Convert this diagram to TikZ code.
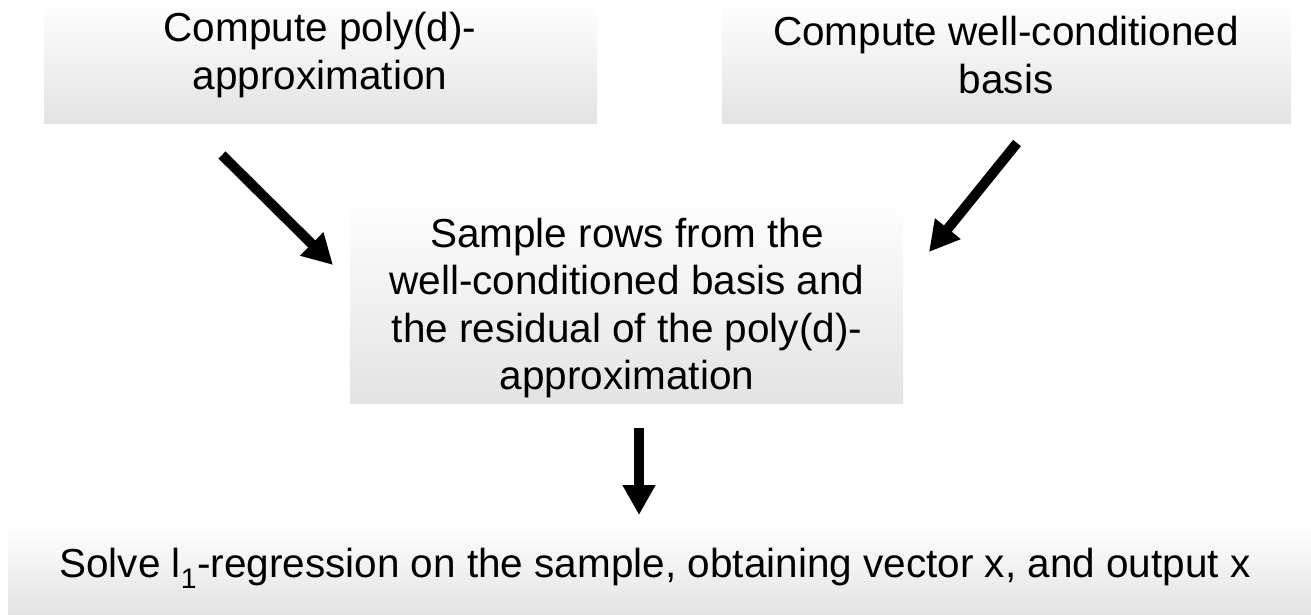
\documentclass[tikz,border=0pt]{standalone}
\usepackage{fontspec}
\setmainfont{Liberation Sans}
\usetikzlibrary{arrows.meta}
\tikzset{
  boxshade/.style={rectangle, inner sep=0pt, anchor=north west, shading=axis,
    top color=white, middle color=white, bottom color=black!11, draw=none},
  txt/.style={align=center, inner sep=0pt, font=\fontsize{40.5}{47.5}\selectfont},
  bigarrow/.style={line width=10pt, -{Triangle[width=31pt,length=30pt]}, black}
}
\begin{document}
\begin{tikzpicture}[x=1pt,y=-1pt]
\useasboundingbox (0,0) rectangle (1311,614);
% boxes
\node[boxshade, minimum width=553pt, minimum height=123pt] (b1) at (44,0) {};
\node[boxshade, minimum width=569pt, minimum height=123pt] (b2) at (722,0) {};
\node[boxshade, minimum width=553pt, minimum height=208pt] (b3) at (350,195) {};
\node[boxshade, minimum width=1303pt, minimum height=90pt] (b4) at (8,524) {};
% texts
\node[txt] (t1) at (320,55) {Compute poly(d)-\\approximation};
\node[txt] (t2) at (1006,55) {Compute well-conditioned\\basis};
\node[txt] (t3) at (627,308) {Sample rows from the\\well-conditioned basis and\\the residual of the poly(d)-\\approximation};
\node[txt] (t4) at (655,568) {Solve l\textsubscript{1}-regression on the sample, obtaining vector x, and output x};
% arrows
\coordinate (a1s) at (222,155);
\coordinate (a1e) at (333,265);
\coordinate (a2s) at (1017,143);
\coordinate (a2e) at (929,252);
\coordinate (a3s) at (639,428);
\coordinate (a3e) at (639,515);
\draw[bigarrow] (a1s) -- (a1e);
\draw[bigarrow] (a2s) -- (a2e);
\draw[bigarrow] (a3s) -- (a3e);
\end{tikzpicture}
\end{document}
